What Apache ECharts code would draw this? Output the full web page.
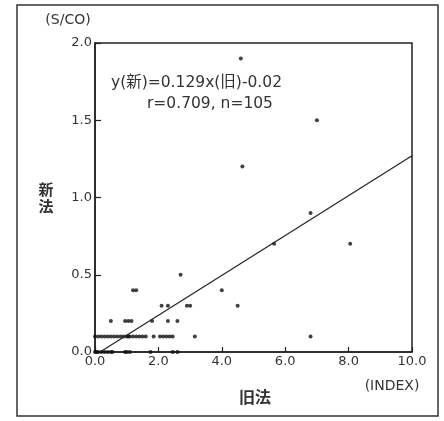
<!DOCTYPE html>
<html>
<head>
<meta charset="utf-8">
<script src="https://cdn.jsdelivr.net/npm/echarts@6/dist/echarts.min.js"></script>
<style>
html,body{margin:0;padding:0;background:#fff;}
#chart{width:444px;height:421px;}
</style>
</head>
<body>
<div id="chart"></div>
<script>
// 旧法 (x, INDEX) and 新法 (y, S/CO) values
const oldMethod = [
  // y = 0.0 row
  0.0, 0.05, 0.1, 0.2, 0.3, 0.4, 0.5, 0.55, 0.95, 1.0, 1.1, 1.75, 2.45, 2.6,
  // y = 0.1 row
  0.0, 0.1, 0.2, 0.3, 0.4, 0.5, 0.6, 0.7, 0.8, 0.9, 1.0, 1.05, 1.1, 1.2, 1.3, 1.4, 1.5,
  1.6, 1.85, 2.05, 2.15, 2.25, 2.35, 2.45, 3.15, 6.8,
  // y = 0.2 row
  0.5, 0.95, 1.05, 1.15, 1.8, 2.3, 2.6,
  // y = 0.3 row
  2.1, 2.3, 2.9, 3.0, 4.5,
  // y = 0.4 row
  1.2, 1.3, 4.0,
  // higher values
  2.7, 5.65, 8.05, 6.8, 4.65, 7.0, 4.6
];
const newMethod = [
  0, 0, 0, 0, 0, 0, 0, 0, 0, 0, 0, 0, 0, 0,
  0.1, 0.1, 0.1, 0.1, 0.1, 0.1, 0.1, 0.1, 0.1, 0.1, 0.1, 0.1, 0.1, 0.1, 0.1, 0.1, 0.1,
  0.1, 0.1, 0.1, 0.1, 0.1, 0.1, 0.1, 0.1, 0.1,
  0.2, 0.2, 0.2, 0.2, 0.2, 0.2, 0.2,
  0.3, 0.3, 0.3, 0.3, 0.3,
  0.4, 0.4, 0.4,
  0.5, 0.7, 0.7, 0.9, 1.2, 1.5, 1.9
];
// regression line y(新)=0.129x(旧)-0.02, endpoints read where it meets the plot frame
const fitX = [0.16, 10.0];
const fitY = [0.0, 1.27];
const xTicks = [0, 2, 4, 6, 8, 10];
const yTicks = [0, 0.5, 1.0, 1.5, 2.0];

const points = oldMethod.map((x, i) => [x, newMethod[i]]);
const fitLine = fitX.map((x, i) => [x, fitY[i]]);

const FONT = '"DejaVu Sans", "Noto Sans CJK JP", sans-serif';
const CJK = '"Noto Sans CJK JP", sans-serif';
const TXT = '#333';

const chart = echarts.init(document.getElementById('chart'), null, {renderer: 'canvas'});
chart.setOption({
  animation: false,
  backgroundColor: '#fff',
  grid: {left: 95, right: 32, top: 43, bottom: 69, show: true, borderColor: '#222', borderWidth: 1.5},
  xAxis: {
    type: 'value', min: xTicks[0], max: xTicks[xTicks.length - 1], interval: 2,
    axisLine: {lineStyle: {color: '#222', width: 1.5}},
    axisTick: {inside: true, length: 5, lineStyle: {color: '#222', width: 1.2}},
    axisLabel: {color: TXT, fontFamily: FONT, fontSize: 13, margin: 3, formatter: v => v.toFixed(1)},
    splitLine: {show: false}
  },
  yAxis: {
    type: 'value', min: yTicks[0], max: yTicks[yTicks.length - 1], interval: 0.5,
    axisLine: {lineStyle: {color: '#222', width: 1.5}},
    axisTick: {inside: true, length: 6, lineStyle: {color: '#222', width: 1.2}},
    axisLabel: {color: TXT, fontFamily: FONT, fontSize: 13, margin: 3, formatter: v => v.toFixed(1)},
    splitLine: {show: false}
  },
  series: [
    {
      type: 'scatter', data: points, symbol: 'circle', symbolSize: 4,
      itemStyle: {color: '#111'}, clip: false
    },
    {
      type: 'line', data: fitLine, symbol: 'none',
      lineStyle: {color: '#222', width: 1.2}
    }
  ],
  graphic: [
    {type: 'rect', shape: {x: 17, y: 5, width: 421, height: 411}, style: {fill: 'none', stroke: '#333', lineWidth: 1.5}, silent: true},
    {type: 'text', x: 68, y: 20, style: {text: '(S/CO)', fill: TXT, font: '14px ' + FONT, textAlign: 'center', textVerticalAlign: 'middle'}},
    {type: 'text', x: 46, y: 189, style: {text: '新', fill: TXT, font: 'bold 15px ' + CJK, textAlign: 'center', textVerticalAlign: 'middle'}},
    {type: 'text', x: 46, y: 206, style: {text: '法', fill: TXT, font: 'bold 15px ' + CJK, textAlign: 'center', textVerticalAlign: 'middle'}},
    {type: 'text', x: 392, y: 386, style: {text: '(INDEX)', fill: TXT, font: '14px ' + FONT, textAlign: 'center', textVerticalAlign: 'middle'}},
    {type: 'text', x: 255, y: 397, style: {text: '旧法', fill: TXT, font: 'bold 16px ' + CJK, textAlign: 'center', textVerticalAlign: 'middle'}},
    {type: 'text', x: 111, y: 83, style: {text: 'y(新)=0.129x(旧)-0.02', fill: TXT, font: '15.5px ' + FONT, textAlign: 'left', textVerticalAlign: 'middle'}},
    {type: 'text', x: 147, y: 104, style: {text: 'r=0.709, n=105', fill: TXT, font: '15.5px ' + FONT, textAlign: 'left', textVerticalAlign: 'middle'}}
  ]
});
</script>
</body>
</html>
